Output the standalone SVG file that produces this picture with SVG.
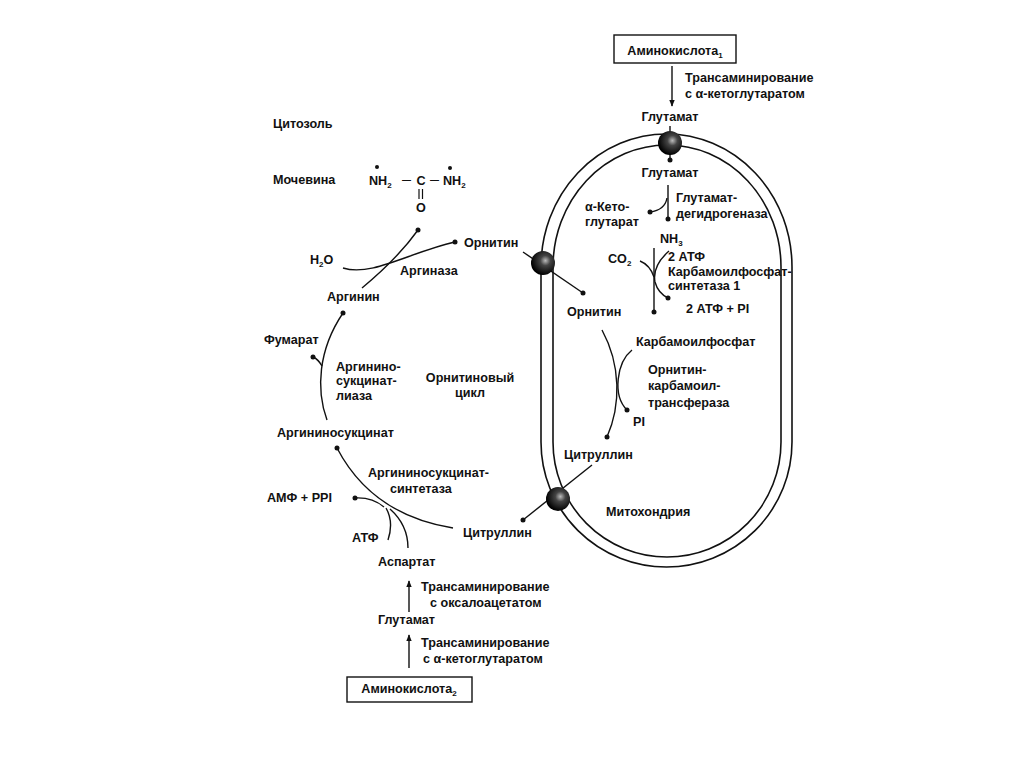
<svg xmlns="http://www.w3.org/2000/svg" width="1024" height="768" viewBox="0 0 1024 768">
<defs>
<style>
text{font-family:"Liberation Sans",Arial,sans-serif;font-weight:bold;font-size:12.6px;fill:#111}
.c{text-anchor:middle}
.sub{font-size:8px}
.dash{font-size:9px}
.ln{fill:none;stroke:#111;stroke-width:1.4}
.mem{fill:none;stroke:#111;stroke-width:1.6}
.dot{fill:#111}
</style>
<radialGradient id="ball" cx="0.6" cy="0.4" r="0.6">
<stop offset="0" stop-color="#bbb"/>
<stop offset="0.35" stop-color="#444"/>
<stop offset="1" stop-color="#000"/>
</radialGradient>
<marker id="ah" viewBox="0 0 10 10" refX="9" refY="5" markerWidth="7" markerHeight="7" orient="auto" markerUnits="userSpaceOnUse">
<path d="M0,1 L10,5 L0,9 z" fill="#111"/>
</marker>
</defs>
<rect width="1024" height="768" fill="#fff"/>

<g id="mitochondrion">
<path class="mem" d="M541,267 A125.5,133 0 0 1 792,267 L792,442 A125.5,125 0 0 1 541,442 Z"/>
<path class="mem" d="M553,267 A114,122 0 0 1 781,267 L781,442 A114,115 0 0 1 553,442 Z"/>
</g>

<g id="connectors">
<line class="ln" x1="672" y1="66" x2="672" y2="106" marker-end="url(#ah)"/>
<line class="ln" x1="670" y1="126" x2="670" y2="160"/>
<line class="ln" x1="668" y1="185" x2="668" y2="219"/>
<path class="ln" d="M667,198 Q665,210 650,212"/>
<line class="ln" x1="654" y1="248" x2="654" y2="312"/>
<path class="ln" d="M640,261 Q650,265 654,277"/>
<path class="ln" d="M669,251 Q652,266 655,282 Q658,293 668,298"/>
<line class="ln" x1="523" y1="252" x2="583" y2="293"/>
<path class="ln" d="M602,330 C621,365 621,405 607,437"/>
<path class="ln" d="M632,350 C617,362 612,395 627,410"/>
<line class="ln" x1="592" y1="465" x2="523" y2="520"/>
<path class="ln" d="M362,288 Q398,258 418,230"/>
<path class="ln" d="M343,268 C372,277 410,252 455,242"/>
<path class="ln" d="M327,420 C316,390 318,350 343,313"/>
<path class="ln" d="M322,366 Q318,359 313,357"/>
<path class="ln" d="M337,448 Q372,515 453,528"/>
<path class="ln" d="M355,498 Q372,497 384,507"/>
<path class="ln" d="M386,508 Q394,522 388,540"/>
<path class="ln" d="M390,509 Q408,525 408,548"/>
<line class="ln" x1="409" y1="612" x2="409" y2="581" marker-end="url(#ah)"/>
<line class="ln" x1="409" y1="668" x2="409" y2="635" marker-end="url(#ah)"/>
<g class="dot">
<circle cx="670" cy="160" r="2.5"/>
<circle cx="668" cy="219" r="2.5"/>
<circle cx="650" cy="212" r="2.5"/>
<circle cx="654" cy="312" r="2.5"/>
<circle cx="668" cy="298" r="2.5"/>
<circle cx="583" cy="293" r="2.5"/>
<circle cx="607" cy="437" r="2.5"/>
<circle cx="627" cy="410" r="2.5"/>
<circle cx="523" cy="520" r="2.5"/>
<circle cx="418" cy="230" r="2.5"/>
<circle cx="455" cy="242" r="2.5"/>
<circle cx="343" cy="313" r="2.5"/>
<circle cx="313" cy="357" r="2.5"/>
<circle cx="337" cy="448" r="2.5"/>
<circle cx="355" cy="498" r="2.5"/>
<circle cx="377" cy="167" r="2"/>
<circle cx="450" cy="168" r="2"/>
</g>
</g>

<g id="transporters">
<circle cx="670" cy="143" r="12" fill="url(#ball)"/>
<circle cx="543" cy="263" r="12" fill="url(#ball)"/>
<circle cx="558" cy="499" r="12" fill="url(#ball)"/>
</g>

<g id="aminoacid1">
<rect x="614" y="35" width="122" height="28" fill="#fff" stroke="#111" stroke-width="1.4"/>
<text class="c" x="675" y="55">Аминокислота<tspan class="sub" dy="3">1</tspan></text>
</g>
<g id="trans1">
<text x="685" y="82">Трансаминирование</text>
<text x="685" y="98">с α-кетоглутаратом</text>
</g>
<g id="glutamate-cyt"><text class="c" x="670" y="121">Глутамат</text></g>
<g id="cytosol-label"><text x="273" y="128">Цитозоль</text></g>
<g id="glutamate-mito"><text class="c" x="670" y="177">Глутамат</text></g>
<g id="gdh">
<text x="676" y="202">Глутамат-</text>
<text x="676" y="218">дегидрогеназа</text>
</g>
<g id="ketoglutarate">
<text x="585" y="211">α-Кето-</text>
<text x="585" y="226">глутарат</text>
</g>
<g id="urea">
<text x="273" y="184">Мочевина</text>
<text x="369" y="185">NH<tspan class="sub" dy="3">2</tspan></text>
<text class="dash" x="402" y="183">—</text>
<text class="c" x="421" y="185">C</text>
<text class="dash" x="430" y="183">—</text>
<text x="443" y="185">NH<tspan class="sub" dy="3">2</tspan></text>
<line x1="419" y1="189" x2="419" y2="199" stroke="#111" stroke-width="1.2"/>
<line x1="422.5" y1="189" x2="422.5" y2="199" stroke="#111" stroke-width="1.2"/>
<text class="c" x="421" y="212">O</text>
</g>
<g id="nh3"><text x="660" y="243">NH<tspan class="sub" dy="3">3</tspan></text></g>
<g id="h2o"><text x="310" y="264">H<tspan class="sub" dy="3">2</tspan><tspan dy="-3">O</tspan></text></g>
<g id="ornithine-cyt"><text x="464" y="247">Орнитин</text></g>
<g id="arginase"><text x="400" y="275">Аргиназа</text></g>
<g id="co2"><text x="608" y="263">CO<tspan class="sub" dy="3">2</tspan></text></g>
<g id="cps">
<text x="668" y="261">2 АТФ</text>
<text x="668" y="276">Карбамоилфосфат-</text>
<text x="668" y="290">синтетаза 1</text>
</g>
<g id="arginine"><text x="327" y="301">Аргинин</text></g>
<g id="atp-pi"><text x="686" y="313">2 АТФ + PI</text></g>
<g id="ornithine-mito"><text x="567" y="316">Орнитин</text></g>
<g id="fumarate"><text x="264" y="344">Фумарат</text></g>
<g id="carbamoylphosphate"><text x="636" y="346">Карбамоилфосфат</text></g>
<g id="asl">
<text x="336" y="371">Аргинино-</text>
<text x="336" y="385">сукцинат-</text>
<text x="336" y="400">лиаза</text>
</g>
<g id="otc">
<text x="648" y="374">Орнитин-</text>
<text x="648" y="390">карбамоил-</text>
<text x="648" y="407">трансфераза</text>
</g>
<g id="cycle-label">
<text class="c" x="470" y="382">Орнитиновый</text>
<text class="c" x="470" y="397">цикл</text>
</g>
<g id="pi"><text x="633" y="426">PI</text></g>
<g id="argininosuccinate"><text x="277" y="437">Аргининосукцинат</text></g>
<g id="citrulline-mito"><text x="564" y="459">Цитруллин</text></g>
<g id="ass">
<text x="368" y="477">Аргининосукцинат-</text>
<text x="390" y="493">синтетаза</text>
</g>
<g id="amp"><text x="267" y="502">АМФ + PPI</text></g>
<g id="mito-label"><text x="606" y="516">Митохондрия</text></g>
<g id="citrulline-cyt"><text x="463" y="537">Цитруллин</text></g>
<g id="atp"><text x="352" y="542">АТФ</text></g>
<g id="aspartate"><text x="378" y="566">Аспартат</text></g>
<g id="trans2">
<text x="421" y="591">Трансаминирование</text>
<text x="430" y="607">с оксалоацетатом</text>
</g>
<g id="glutamate-bottom"><text x="378" y="624">Глутамат</text></g>
<g id="trans3">
<text x="421" y="647">Трансаминирование</text>
<text x="423" y="663">с α-кетоглутаратом</text>
</g>
<g id="aminoacid2">
<rect x="347" y="677" width="125" height="25" fill="#fff" stroke="#111" stroke-width="1.4"/>
<text class="c" x="409" y="693">Аминокислота<tspan class="sub" dy="3">2</tspan></text>
</g>
</svg>
